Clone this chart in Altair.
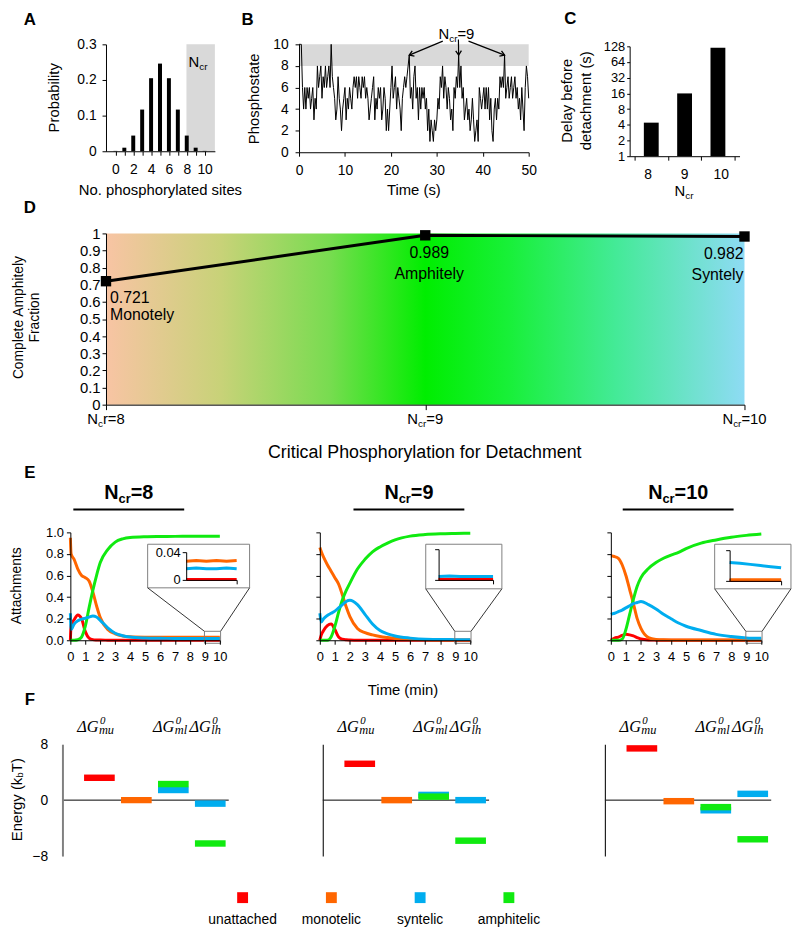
import math
import altair as alt
import pandas as pd

W, H = 792, 925


def P(v):
    return v - 8


FONT = "Liberation Sans, Arial, Helvetica, sans-serif"
SERIF = "Liberation Serif, Times New Roman, serif"

# ------------------------------------------------------------------ data
STATES = ["unattached", "monotelic", "syntelic", "amphitelic"]
STATE_COLORS = ["#FF0000", "#FF6600", "#00ADEF", "#10EA10"]
COL = dict(zip(STATES, STATE_COLORS))

A_SITES = [0, 1, 2, 3, 4, 5, 6, 7, 8, 9, 10]
A_PROB = [0.001, 0.010, 0.044, 0.117, 0.205, 0.246, 0.205, 0.117, 0.044, 0.010, 0.001]
A_NCR_BAND = [7.7, 10.6]

B_DT = 0.25
B_PHOS = [
    10, 10, 10, 6, 4, 6, 4, 6, 5, 6, 4, 5, 6, 3, 5, 4, 8, 6, 7, 8,
    5, 7, 6, 8, 6, 7, 8, 6, 10, 7, 6, 5, 3, 4, 7, 5, 4, 2, 4, 5,
    6, 3, 5, 4, 6, 5, 4, 6, 7, 6, 7, 5, 7, 6, 5, 7, 6, 7, 5, 6,
    5, 3, 4, 5, 6, 7, 3, 5, 4, 6, 5, 6, 3, 4, 6, 5, 2, 4, 2, 4,
    6, 8, 5, 6, 7, 4, 6, 5, 4, 2, 5, 6, 7, 6, 7, 8, 9, 5, 6, 4,
    7, 8, 5, 6, 3, 6, 4, 6, 5, 6, 4, 5, 2, 4, 1, 3, 2, 1, 3, 2,
    3, 5, 4, 7, 6, 8, 5, 7, 6, 4, 6, 5, 3, 4, 2, 6, 5, 7, 6, 9,
    6, 8, 5, 6, 3, 4, 5, 3, 4, 2, 3, 5, 3, 1, 2, 3, 1, 6, 5, 4,
    5, 6, 4, 6, 4, 6, 3, 5, 2, 1, 4, 5, 3, 5, 4, 7, 6, 7, 6, 9,
    5, 6, 7, 5, 6, 7, 5, 6, 7, 5, 6, 4, 5, 3, 6, 4, 2, 6, 8, 7,
    5,
]
B_NCR_BAND = [8, 10]
B_PEAK_T = [24.0, 34.75, 44.75]
B_PEAK_V = [9, 9, 9]
B_ARROW_FROM_T = [31.3, 34.7, 36.9]
B_ARROW_FROM_V = [10.3, 10.45, 10.3]

C_NCR = [8, 9, 10]
C_DELAY = [4.4, 16.0, 120.0]

D_NCR = [8, 9, 10]
D_FRAC = [0.721, 0.989, 0.982]
D_STATE = ["Monotely", "Amphitely", "Syntely"]

E8_T = [0, 0.05, 0.25, 0.5, 0.75, 1.0, 1.25, 1.5, 1.75, 2.0, 2.5, 3.0, 3.5, 4.0, 5.0, 6.0, 7.0, 8.0, 9.0, 10.0]
E8_RED = [0, 0.14, 0.19, 0.235, 0.20, 0.08, 0.02, 0.006, 0.003, 0.002, 0.001, 0, 0, 0, 0, 0, 0, 0, 0, 0]
E8_ORANGE = [0.95, 0.80, 0.75, 0.66, 0.60, 0.58, 0.55, 0.45, 0.32, 0.21, 0.10, 0.06, 0.04, 0.033, 0.029, 0.028, 0.028, 0.027, 0.027, 0.027]
E8_BLUE = [0.25, 0.10, 0.15, 0.18, 0.195, 0.205, 0.215, 0.225, 0.215, 0.185, 0.115, 0.065, 0.042, 0.03, 0.021, 0.018, 0.017, 0.016, 0.016, 0.016]
E8_GREEN = [0, 0, 0, 0.005, 0.03, 0.13, 0.30, 0.46, 0.60, 0.72, 0.84, 0.91, 0.94, 0.953, 0.96, 0.962, 0.963, 0.964, 0.965, 0.965]

E9_T = [0, 0.1, 0.25, 0.5, 0.75, 1.0, 1.25, 1.5, 1.75, 2.0, 2.5, 3.0, 3.5, 4.0, 4.5, 5.0, 6.0, 7.0, 8.0, 9.0, 10.0]
E9_RED = [0, 0.05, 0.09, 0.135, 0.15, 0.10, 0.03, 0.01, 0.004, 0.002, 0, 0, 0, 0, 0, 0, 0, 0, 0, 0, 0]
E9_ORANGE = [0.86, 0.82, 0.77, 0.70, 0.64, 0.58, 0.52, 0.42, 0.31, 0.22, 0.11, 0.07, 0.05, 0.035, 0.025, 0.017, 0.01, 0.005, 0.003, 0.002, 0.002]
E9_BLUE = [0.25, 0.17, 0.20, 0.23, 0.25, 0.27, 0.30, 0.33, 0.36, 0.37, 0.33, 0.24, 0.15, 0.09, 0.06, 0.04, 0.02, 0.009, 0.007, 0.006, 0.006]
E9_GREEN = [0, 0, 0, 0, 0.03, 0.13, 0.26, 0.375, 0.46, 0.53, 0.66, 0.75, 0.82, 0.865, 0.90, 0.93, 0.965, 0.98, 0.987, 0.99, 0.992]

E10_T = [0, 0.1, 0.25, 0.5, 0.75, 1.0, 1.25, 1.5, 1.75, 2.0, 2.5, 3.0, 3.5, 4.0, 4.5, 5.0, 6.0, 7.0, 8.0, 9.0, 10.0]
E10_RED = [0, 0.01, 0.02, 0.03, 0.045, 0.055, 0.05, 0.04, 0.025, 0.012, 0.003, 0.001, 0, 0, 0, 0, 0, 0, 0, 0, 0]
E10_ORANGE = [0.78, 0.78, 0.775, 0.76, 0.70, 0.60, 0.47, 0.34, 0.20, 0.11, 0.025, 0.008, 0.004, 0.003, 0.003, 0.003, 0.002, 0.002, 0.002, 0.002, 0.002]
E10_BLUE = [0.24, 0.245, 0.25, 0.265, 0.28, 0.30, 0.32, 0.34, 0.35, 0.36, 0.33, 0.29, 0.24, 0.20, 0.16, 0.13, 0.09, 0.055, 0.035, 0.022, 0.018]
E10_GREEN = [0, 0, 0, 0, 0.01, 0.10, 0.24, 0.38, 0.50, 0.58, 0.665, 0.72, 0.76, 0.79, 0.815, 0.85, 0.90, 0.93, 0.955, 0.972, 0.985]

INSET_T = [9.0, 9.2, 9.4, 9.6, 9.8, 10.0]
I8_RED = [0.0005, 0.0005, 0.0005, 0.0005, 0.0005, 0.0005]
I8_ORANGE = [0.027, 0.028, 0.027, 0.028, 0.027, 0.028]
I8_BLUE = [0.016, 0.017, 0.016, 0.016, 0.017, 0.016]
I9_RED = [0.0008, 0.0008, 0.0008, 0.0008, 0.0008, 0.0008]
I9_ORANGE = [0.0005, 0.0005, 0.0005, 0.0005, 0.0005, 0.0005]
I9_BLUE = [0.0045, 0.005, 0.0045, 0.0045, 0.0045, 0.0045]
I10_RED = [0.0005, 0.0005, 0.0005, 0.0005, 0.0005, 0.0005]
I10_ORANGE = [0.0015, 0.0015, 0.0015, 0.0015, 0.0015, 0.0015]
I10_BLUE = [0.024, 0.023, 0.0215, 0.020, 0.0185, 0.017]

# inset frame and zoom box, in units of the E panels (min, 0..1)
E8_BOX = [5.17, 11.99, 0.486, 0.89]
E9_BOX = [7.04, 12.10, 0.477, 0.89]
E10_BOX = [6.90, 11.97, 0.477, 0.89]
E_ZOOM = [8.97, 10.05, -0.028, 0.083]

F_SLOT = [1, 2, 3, 3, 4, 4]
F_STATE = ["unattached", "monotelic", "syntelic", "amphitelic", "syntelic", "amphitelic"]
F8_E = [3.2, 0.0, 1.45, 2.3, -0.5, -6.2]
F9_E = [5.2, 0.0, 0.75, 0.5, 0.0, -5.8]
F10_E = [7.4, -0.15, -1.45, -1.0, 0.9, -5.6]
F_G_SLOT = [1, 3, 4]
F_G_SUB = ["mu", "ml", "lh"]
F_G_SHIFT = [-22.5, -20.5, -21.0]

LEG_POS = [1, 2, 3, 4]

# ------------------------------------------------------------------ helpers
color_scale = alt.Scale(domain=STATES, range=STATE_COLORS)


def xs(domain, p0, p1, **kw):
    return alt.Scale(domain=domain, range=[P(p0), P(p1)], nice=False, zero=False, **kw)


def ys(domain, pbot, ptop, **kw):
    return alt.Scale(domain=domain, range=[P(pbot), P(ptop)], nice=False, zero=False, **kw)


def _axis(orient, offset, values, labels, tick, pad, size, font, expr, fmt, color, width, ticks):
    kw = dict(orient=orient, offset=offset, values=values, grid=False, title=None,
              ticks=ticks, tickSize=tick, tickColor=color, tickWidth=width,
              domain=True, domainColor=color, domainWidth=width, labels=labels,
              labelFont=font, labelFontSize=size, labelColor="black", labelPadding=pad,
              labelFlush=False, labelOverlap=False, zindex=2)
    if expr:
        kw["labelExpr"] = expr
    if fmt:
        kw["format"] = fmt
    return alt.Axis(**kw)


def ax_b(ypage, values, labels=True, tick=4, pad=7, size=14, font=FONT, expr=None, fmt=None,
         color="black", width=1, ticks=True):
    return _axis("bottom", P(ypage) - H, values, labels, tick, pad, size, font, expr, fmt, color, width, ticks)


def ax_l(xpage, values, labels=True, tick=4, pad=4, size=14, font=FONT, expr=None, fmt=None,
         color="black", width=1, ticks=True):
    return _axis("left", -P(xpage), values, labels, tick, pad, size, font, expr, fmt, color, width, ticks)


def label(text, x, y, size=14, font=FONT, weight="normal", style="normal", angle=0,
          align="center", baseline="middle", color="black"):
    return alt.Chart(pd.DataFrame({"t": [text]})).mark_text(
        font=font, fontSize=size, fontWeight=weight, fontStyle=style, angle=angle,
        align=align, baseline=baseline, color=color
    ).encode(x=alt.value(P(x)), y=alt.value(P(y)), text="t:N")


AW = {"N": .722, "c": .5, "r": .333, "=": .584, "b": .556, "T": .611, "(": .333, ")": .333,
      " ": .278, "E": .667, "n": .556, "e": .556, "g": .556, "y": .5, "k": .5}
AWB = {"N": .722, "c": .556, "r": .389, "=": .584}


def tw(s, size, bold=False):
    tab = AWB if bold else AW
    return sum(tab.get(ch, 0.556) for ch in s) * size


def ncr_label(cx, base_y, parts, weight="normal"):
    widths = [tw(t, s, weight == "bold") for t, s, _ in parts]
    x = cx - sum(widths) / 2
    out = []
    for (t, s, dy), w in zip(parts, widths):
        out.append(label(t, x, base_y + dy, size=s, weight=weight, align="left", baseline="alphabetic"))
        x += w
    return out


def ncr_scaled(val, scale, base_y, parts):
    widths = [tw(t, s) for t, s, _ in parts]
    off = -sum(widths) / 2
    out = []
    for (t, s, dy), w in zip(parts, widths):
        out.append(alt.Chart(pd.DataFrame({"v": [val], "t": [t]})).mark_text(
            font=FONT, fontSize=s, align="left", baseline="alphabetic", dx=off, color="black"
        ).encode(x=alt.X("v:Q", scale=scale, axis=None), y=alt.value(P(base_y + dy)), text="t:N"))
        off += w
    return out


layers = []

# ------------------------------------------------------------------ panel A
a_x = xs([-0.5, 10.6], 107, 217)
a_y = ys([0, 0.3], 148, 40)
layers.append(alt.Chart(pd.DataFrame({"x0": [A_NCR_BAND[0]], "x1": [A_NCR_BAND[1]], "y0": [0.0], "y1": [0.3]}))
              .mark_rect(color="#D9D9D9")
              .encode(x=alt.X("x0:Q", scale=a_x, axis=None), x2="x1:Q",
                      y=alt.Y("y0:Q", scale=a_y, axis=None), y2="y1:Q"))
layers.append(alt.Chart(pd.DataFrame({"site": A_SITES, "p": A_PROB, "base": [0.0] * len(A_SITES)}))
              .mark_bar(color="black", size=4)
              .encode(x=alt.X("site:Q", scale=a_x,
                              axis=ax_b(148, A_SITES, tick=4, pad=7,
                                        expr="datum.value % 2 === 0 ? datum.label : ''")),
                      y=alt.Y("p:Q", scale=a_y, axis=ax_l(107, [0, 0.1, 0.2, 0.3], tick=4, pad=6, fmt="~g")),
                      y2="base:Q"))
layers += ncr_label(200, 63, [("N", 15, 0), ("cr", 10, 3)])
layers.append(label("Probability", 55, 94, size=15, angle=270))
layers.append(label("No. phosphorylated sites", 162, 187, size=15))
layers.append(label("A", 30, 15, size=17, weight="bold"))

# ------------------------------------------------------------------ panel B
b_x = xs([0, 50], 302, 534)
b_y = ys([0, 10], 149, 40)
layers.append(alt.Chart(pd.DataFrame({"x0": [0], "x1": [50], "y0": [B_NCR_BAND[0]], "y1": [B_NCR_BAND[1]]}))
              .mark_rect(color="#D9D9D9")
              .encode(x=alt.X("x0:Q", scale=b_x, axis=None), x2="x1:Q",
                      y=alt.Y("y0:Q", scale=b_y, axis=None), y2="y1:Q"))
b_df = pd.DataFrame({"t": [i * B_DT for i in range(len(B_PHOS))], "v": B_PHOS})
layers.append(alt.Chart(b_df).mark_line(color="black", strokeWidth=1)
              .encode(x=alt.X("t:Q", scale=b_x, axis=ax_b(149, [0, 10, 20, 30, 40, 50], tick=4, pad=7)),
                      y=alt.Y("v:Q", scale=b_y, axis=ax_l(302, [0, 2, 4, 6, 8, 10], tick=4, pad=7))))
bx_px = (534 - 302) / 50
by_px = (149 - 40) / 10
angs = []
for t0, v0, t1, v1 in zip(B_ARROW_FROM_T, B_ARROW_FROM_V, B_PEAK_T, B_PEAK_V):
    dxp = (t1 - t0) * bx_px
    dyp = -(v1 - v0) * by_px
    angs.append(math.degrees(math.atan2(dxp, -dyp)) % 360)
arr = pd.DataFrame({"x0": B_ARROW_FROM_T, "y0": B_ARROW_FROM_V, "x1": B_PEAK_T, "y1": B_PEAK_V, "ang": angs})
layers.append(alt.Chart(arr).mark_rule(color="black", strokeWidth=1.2)
              .encode(x=alt.X("x0:Q", scale=b_x, axis=None), x2="x1:Q",
                      y=alt.Y("y0:Q", scale=b_y, axis=None), y2="y1:Q"))
layers.append(alt.Chart(arr).mark_point(shape="M-0.55,0.85L0,0L0.55,0.85", filled=False, size=110,
                                        strokeWidth=1.3, color="black", opacity=1)
              .encode(x=alt.X("x1:Q", scale=b_x, axis=None), y=alt.Y("y1:Q", scale=b_y, axis=None),
                      angle=alt.Angle("ang:Q", scale=None)))
layers += ncr_label(461, 35, [("N", 15, 0), ("cr", 10, 3), ("=9", 15, 0)])
layers.append(label("Phosphostate", 257, 95, size=15, angle=270))
layers.append(label("Time (s)", 418, 187, size=15))
layers.append(label("B", 250, 15, size=17, weight="bold"))

# ------------------------------------------------------------------ panel C
c_x = xs([7.5, 10.5], 636, 747)
c_y = ys([1, 128], 153, 42, type="log", base=2)
c_df = pd.DataFrame({"n": C_NCR, "d": C_DELAY, "base": [1.0] * 3, "lab": [str(v) for v in C_NCR]})
layers.append(alt.Chart(c_df).mark_bar(color="black", size=15)
              .encode(x=alt.X("n:Q", scale=c_x, axis=ax_b(153, [7.5, 8.5, 9.5, 10.5], labels=False, tick=4)),
                      y=alt.Y("d:Q", scale=c_y,
                              axis=ax_l(636, [1, 2, 4, 8, 16, 32, 64, 128], tick=3, pad=2, size=13)),
                      y2="base:Q"))
layers.append(alt.Chart(c_df).mark_text(font=FONT, fontSize=14, color="black")
              .encode(x=alt.X("n:Q", scale=c_x, axis=None), y=alt.value(P(172)), text="lab:N"))
layers += ncr_label(691, 193, [("N", 15, 0), ("cr", 10, 3)])
layers.append(label("Delay before", 573, 97, size=15, angle=270))
layers.append(label("detachment (s)", 592, 97, size=15, angle=270))
layers.append(label("C", 576, 14, size=17, weight="bold"))

# ------------------------------------------------------------------ panel D
d_x = xs([8, 10], 107, 752)
d_y = ys([0, 1], 404, 231)
grad = alt.Gradient(
    gradient="linear", x1=0, x2=1, y1=0, y2=0,
    stops=[alt.GradientStop(offset=0.0, color="#F8C4A4"),
           alt.GradientStop(offset=0.18, color="#C8D278"),
           alt.GradientStop(offset=0.35, color="#78DC50"),
           alt.GradientStop(offset=0.5, color="#00EE00"),
           alt.GradientStop(offset=0.63, color="#18F038"),
           alt.GradientStop(offset=0.8, color="#44EA98"),
           alt.GradientStop(offset=1.0, color="#8EDBF4")])
layers.append(alt.Chart(pd.DataFrame({"x0": [8], "x1": [10], "y0": [0.0], "y1": [1.0]}))
              .mark_rect(color=grad)
              .encode(x=alt.X("x0:Q", scale=d_x, axis=None), x2="x1:Q",
                      y=alt.Y("y0:Q", scale=d_y, axis=None), y2="y1:Q"))
d_df = pd.DataFrame({"n": D_NCR, "f": D_FRAC})
layers.append(alt.Chart(d_df).mark_line(color="black", strokeWidth=3)
              .encode(x=alt.X("n:Q", scale=d_x, axis=ax_b(404, [8, 9, 10], labels=False, tick=5)),
                      y=alt.Y("f:Q", scale=d_y,
                              axis=ax_l(107, [0, 0.1, 0.2, 0.3, 0.4, 0.5, 0.6, 0.7, 0.8, 0.9, 1.0],
                                        tick=4, pad=2, size=15, fmt="~g"))))
layers.append(alt.Chart(d_df).mark_square(color="black", size=110, opacity=1)
              .encode(x=alt.X("n:Q", scale=d_x, axis=None), y=alt.Y("f:Q", scale=d_y, axis=None)))
d_txt = [("%.3f\n%s" % (f, s)) for f, s in zip(D_FRAC, D_STATE)]
for i, (align, dx, dy, lh) in enumerate([("left", 4, 9, 17), ("center", 4, 10, 21), ("right", -1, 10, 21)]):
    layers.append(alt.Chart(pd.DataFrame({"n": [D_NCR[i]], "f": [D_FRAC[i]], "t": [d_txt[i]]}))
                  .mark_text(font=FONT, fontSize=16, align=align, baseline="top", dx=dx, dy=dy,
                             lineBreak="\n", lineHeight=lh, color="black")
                  .encode(x=alt.X("n:Q", scale=d_x, axis=None), y=alt.Y("f:Q", scale=d_y, axis=None),
                          text="t:N"))
layers += ncr_scaled(8, d_x, 424, [("N", 15, 0), ("c", 10, 3), ("r=8", 15, 0)])
layers += ncr_scaled(9, d_x, 424, [("N", 15, 0), ("cr", 10, 3), ("=9", 15, 0)])
layers += ncr_scaled(10, d_x, 424, [("N", 15, 0), ("cr", 10, 3), ("=10", 15, 0)])
layers.append(label("Complete Amphitely", 19, 316, size=14, angle=270))
layers.append(label("Fraction", 35, 316, size=14, angle=270))
layers.append(label("Critical Phosphorylation for Detachment", 429, 453, size=18))
layers.append(label("D", 30, 205, size=17, weight="bold"))

# ------------------------------------------------------------------ panel E
E_PANELS = [
    dict(x0=71, x1=222, t=E8_T, s={"unattached": E8_RED, "monotelic": E8_ORANGE, "amphitelic": E8_GREEN, "syntelic": E8_BLUE},
         box=E8_BOX, ix=(188, 239), iy=(581, 553),
         ins={"unattached": I8_RED, "monotelic": I8_ORANGE, "syntelic": I8_BLUE}, labels=True,
         cx=130, title="=8"),
    dict(x0=323, x1=475, t=E9_T, s={"unattached": E9_RED, "monotelic": E9_ORANGE, "amphitelic": E9_GREEN, "syntelic": E9_BLUE},
         box=E9_BOX, ix=(443, 498), iy=(581, 550),
         ins={"monotelic": I9_ORANGE, "unattached": I9_RED, "syntelic": I9_BLUE}, labels=False,
         cx=413, title="=9"),
    dict(x0=617, x1=769, t=E10_T, s={"unattached": E10_RED, "monotelic": E10_ORANGE, "amphitelic": E10_GREEN, "syntelic": E10_BLUE},
         box=E10_BOX, ix=(737, 789), iy=(582, 551),
         ins={"unattached": I10_RED, "monotelic": I10_ORANGE, "syntelic": I10_BLUE}, labels=False,
         cx=685, title="=10"),
]
for pan in E_PANELS:
    ex = xs([0, 10], pan["x0"], pan["x1"])
    ey = ys([0, 1], 642, 533)
    first = True
    for key, vals in pan["s"].items():
        df = pd.DataFrame({"t": pan["t"], "v": vals})
        xa = ax_b(642, list(range(11)), tick=4, pad=6, size=13) if first else None
        ya = ax_l(pan["x0"], [0, 0.2, 0.4, 0.6, 0.8, 1.0], labels=pan["labels"], tick=4, pad=3,
                  size=13, fmt=".1f") if first else None
        layers.append(alt.Chart(df).mark_line(color=COL[key], strokeWidth=3, interpolate="monotone")
                      .encode(x=alt.X("t:Q", scale=ex, axis=xa), y=alt.Y("v:Q", scale=ey, axis=ya)))
        first = False
    bx = pan["box"]
    frames = pd.DataFrame({"x0": [bx[0], E_ZOOM[0]], "x1": [bx[1], E_ZOOM[1]],
                           "y0": [bx[2], E_ZOOM[2]], "y1": [bx[3], E_ZOOM[3]]})
    layers.append(alt.Chart(frames).mark_rect(filled=False, color="#7F7F7F", strokeWidth=1)
                  .encode(x=alt.X("x0:Q", scale=ex, axis=None), x2="x1:Q",
                          y=alt.Y("y0:Q", scale=ey, axis=None), y2="y1:Q"))
    conn = pd.DataFrame({"x0": [bx[0], bx[1]], "y0": [bx[2], bx[2]],
                         "x1": [E_ZOOM[0], E_ZOOM[1]], "y1": [E_ZOOM[3], E_ZOOM[3]]})
    layers.append(alt.Chart(conn).mark_rule(color="#333333", strokeWidth=1)
                  .encode(x=alt.X("x0:Q", scale=ex, axis=None), x2="x1:Q",
                          y=alt.Y("y0:Q", scale=ey, axis=None), y2="y1:Q"))
    ix = xs([9, 10], *pan["ix"])
    iy = ys([0, 0.04], *pan["iy"])
    first = True
    for key, vals in pan["ins"].items():
        df = pd.DataFrame({"t": INSET_T, "v": vals})
        xa = ax_b(pan["iy"][0], [10], labels=False, tick=4) if first else None
        ya = ax_l(pan["ix"][0], [0, 0.04], labels=pan["labels"], tick=4, pad=2, size=13,
                  fmt="~g") if first else None
        layers.append(alt.Chart(df).mark_line(color=COL[key], strokeWidth=3)
                      .encode(x=alt.X("t:Q", scale=ix, axis=xa), y=alt.Y("v:Q", scale=iy, axis=ya)))
        first = False
    layers += ncr_label(pan["cx"], 499, [("N", 20, 0), ("cr", 13, 4), (pan["title"], 20, 0)], weight="bold")
    layers.append(alt.Chart(pd.DataFrame({"a": [0]})).mark_rule(color="black", strokeWidth=2)
                  .encode(x=alt.value(P(pan["cx"] - 56)), x2=alt.value(P(pan["cx"] + 56)),
                          y=alt.value(P(510))))
layers.append(label("Attachments", 17, 587, size=14, angle=270))
layers.append(label("Time (min)", 407, 692, size=15))
layers.append(label("E", 30, 473, size=17, weight="bold"))

# ------------------------------------------------------------------ panel F
F_PANELS = [(63, F8_E, True, "#808080", 2), (326, F9_E, False, "#222222", 1.2), (611, F10_E, False, "#222222", 1.2)]
for axx, energies, lab_on, acol, aw in F_PANELS:
    fx = xs([0, 4.5], axx, axx + 168)
    fy = ys([-8, 8], 860, 747)
    layers.append(alt.Chart(pd.DataFrame({"x0": [0.0], "x1": [4.5], "y": [0.0]}))
                  .mark_rule(color="black", strokeWidth=1)
                  .encode(x=alt.X("x0:Q", scale=fx, axis=None), x2="x1:Q",
                          y=alt.Y("y:Q", scale=fy,
                                  axis=ax_l(axx, [-8, 0, 8], labels=lab_on, ticks=False, pad=15, size=14,
                                            color=acol, width=aw))))
    fdf = pd.DataFrame({"slot": F_SLOT, "state": F_STATE, "e": energies})
    layers.append(alt.Chart(fdf).mark_tick(orient="horizontal", size=31, thickness=6.5, opacity=1)
                  .encode(x=alt.X("slot:Q", scale=fx, axis=None), y=alt.Y("e:Q", scale=fy, axis=None),
                          color=alt.Color("state:N", scale=color_scale, legend=None)))
    for slot, sub, shift in zip(F_G_SLOT, F_G_SUB, F_G_SHIFT):
        gdf = pd.DataFrame({"slot": [slot], "sub": [sub], "d": ["\u0394G"], "z": ["0"], "y": [9.8]})
        for field, size, dx, dy in [("d", 16.5, shift, 0), ("z", 11, shift + 23, -8), ("sub", 12.5, shift + 22, 2)]:
            layers.append(alt.Chart(gdf).mark_text(font=SERIF, fontStyle="italic", fontSize=size, align="left",
                                                  baseline="alphabetic", dx=dx, dy=dy, color="black")
                          .encode(x=alt.X("slot:Q", scale=fx, axis=None), y=alt.Y("y:Q", scale=fy, axis=None),
                                  text=field + ":N"))
# rotated axis title with subscript
yb = 845
for t, s, dxs in [("Energy (k", 15, 0), ("b", 10, 3), ("T)", 15, 0)]:
    layers.append(label(t, 17 + dxs, yb, size=s, angle=270, align="left", baseline="middle"))
    yb -= tw(t, s)
layers.append(label("F", 30, 702, size=17, weight="bold"))

# legend
lx = xs([1, 4], 245, 514)
ly = ys([0, 1], 925, 902)
leg = pd.DataFrame({"pos": LEG_POS, "state": STATES, "sq": [1.0] * 4, "tx": [0.0] * 4})
layers.append(alt.Chart(leg).mark_square(size=121, opacity=1)
              .encode(x=alt.X("pos:Q", scale=lx, axis=None), y=alt.Y("sq:Q", scale=ly, axis=None),
                      color=alt.Color("state:N", scale=color_scale, legend=None)))
layers.append(alt.Chart(leg).mark_text(font=FONT, fontSize=14, color="black")
              .encode(x=alt.X("pos:Q", scale=lx, axis=None), y=alt.Y("tx:Q", scale=ly, axis=None),
                      text="state:N"))

chart = (alt.layer(*layers)
         .resolve_scale(x="independent", y="independent")
         .properties(width=W, height=H, padding=0, background="white",
                     autosize=alt.AutoSizeParams(type="none"))
         .configure_view(stroke=None)
         .configure_axis(grid=False))

chart.save("out.html", embed_options={"renderer": "svg", "actions": False})
